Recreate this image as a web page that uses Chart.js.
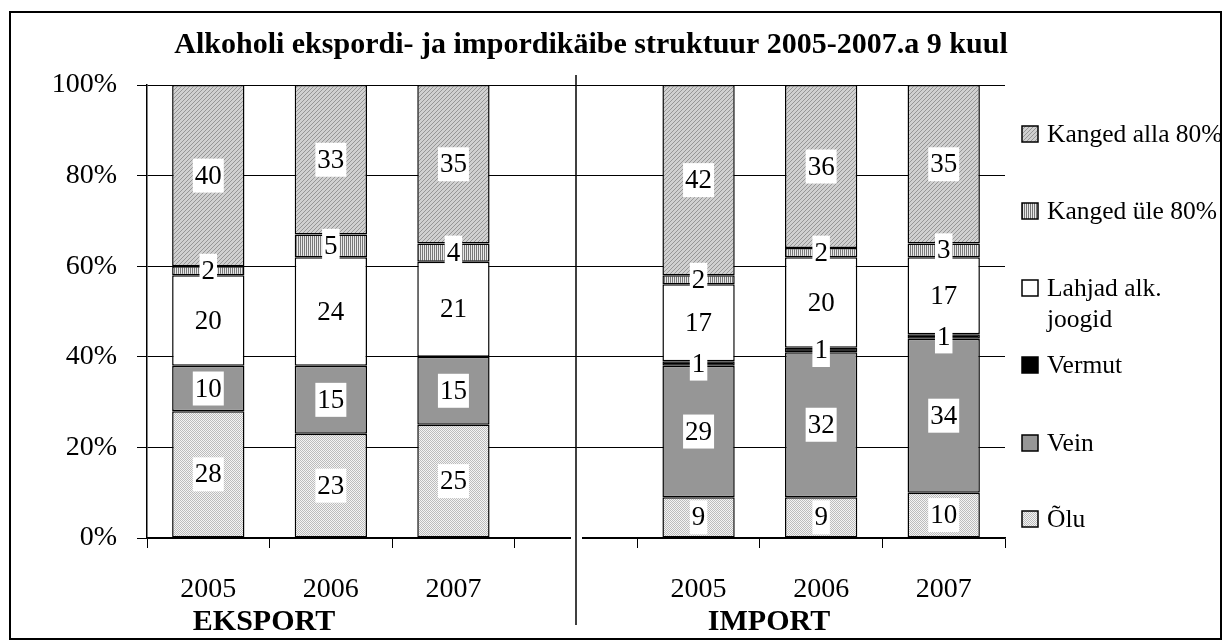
<!DOCTYPE html>
<html>
<head>
<meta charset="utf-8">
<script src="https://cdn.jsdelivr.net/npm/chart.js@4.4.1/dist/chart.umd.min.js"></script>
<style>
    html, body { margin: 0; padding: 0; background: #fff; }
    #wrap { width: 1225px; height: 641px; }
</style>
</head>
<body>
<div id="wrap"><canvas id="graficaAlkohol" width="1225" height="641"></canvas></div>
<script>
const aastad = ["2005", "2006", "2007", "", "2005", "2006", "2007"];
const olu = [28, 23, 25, null, 9, 9, 10];
const vein = [10, 15, 15, null, 29, 32, 34];
const vermut = [null, null, null, null, 1, 1, 1];
const lahjad = [20, 24, 21, null, 17, 20, 17];
const kangedYle = [2, 5, 4, null, 2, 2, 3];
const kangedAlla = [40, 33, 35, null, 42, 36, 35];
const yTicks = [0, 20, 40, 60, 80, 100];
const pealkiri = "Alkoholi ekspordi- ja impordikäibe struktuur 2005-2007.a 9 kuul";
const grupid = ["EKSPORT", "IMPORT"];

const canvas = document.getElementById("graficaAlkohol");
const mainCtx = canvas.getContext("2d");

function muster(w, h, draw) {
    const c = document.createElement("canvas");
    c.width = w;
    c.height = h;
    draw(c.getContext("2d"));
    return mainCtx.createPattern(c, "repeat");
}

const oluMuster = muster(2, 2, (c) => {
    c.fillStyle = "#f4f4f4";
    c.fillRect(0, 0, 2, 2);
    c.fillStyle = "#bcbcbc";
    c.fillRect(0, 0, 1, 1);
    c.fillRect(1, 1, 1, 1);
});

const alla80Muster = muster(4, 4, (c) => {
    c.fillStyle = "#d0d0d0";
    c.fillRect(0, 0, 4, 4);
    c.fillStyle = "#969696";
    for (let i = 0; i < 4; i++) c.fillRect(i, 3 - i, 1, 1);
});

const yle80Muster = muster(2, 1, (c) => {
    c.fillStyle = "#e8e8e8";
    c.fillRect(0, 0, 2, 1);
    c.fillStyle = "#777777";
    c.fillRect(0, 0, 1, 1);
});

const datasets = [
    { label: "Õlu", data: olu, backgroundColor: oluMuster },
    { label: "Vein", data: vein, backgroundColor: "#969696" },
    { label: "Vermut", data: vermut, backgroundColor: "#000000" },
    { label: ["Lahjad alk.", "joogid"], data: lahjad, backgroundColor: "#ffffff" },
    { label: "Kanged üle 80%", data: kangedYle, backgroundColor: yle80Muster },
    { label: "Kanged alla 80%", data: kangedAlla, backgroundColor: alla80Muster },
].map((ds) => ({
    ...ds,
    borderColor: "#000000",
    borderWidth: 1.5,
    borderSkipped: false,
    barPercentage: 0.59,
    categoryPercentage: 1,
}));

// numbers in white boxes on each segment
const vaartusedPlugin = {
    id: "vaartused",
    afterDatasetsDraw(chart) {
        const ctx = chart.ctx;
        ctx.save();
        ctx.font = '27px "Liberation Serif"';
        ctx.textAlign = "center";
        ctx.textBaseline = "middle";
        chart.data.datasets.forEach((ds, i) => {
            const meta = chart.getDatasetMeta(i);
            meta.data.forEach((bar, j) => {
                const v = ds.data[j];
                if (!v) return;
                const p = bar.getProps(["x", "y", "base"], true);
                const cy = (p.y + p.base) / 2;
                const tekst = String(v);
                const w = ctx.measureText(tekst).width + 4;
                ctx.fillStyle = "#ffffff";
                ctx.fillRect(p.x - w / 2, cy - 17, w, 34);
                ctx.fillStyle = "#000000";
                ctx.fillText(tekst, p.x, cy + 1);
            });
        });
        ctx.restore();
    }
};

// title, legend, divider, group names and frame
const raamPlugin = {
    id: "raam",
    afterDraw(chart) {
        const ctx = chart.ctx;
        const area = chart.chartArea;
        ctx.save();

        ctx.fillStyle = "#000000";
        ctx.textAlign = "center";
        ctx.textBaseline = "middle";
        ctx.font = 'bold 30px "Liberation Serif"';
        ctx.fillText(pealkiri, 591, 45);

        ctx.font = 'bold 30px "Liberation Serif"';
        ctx.fillText(grupid[0], 264, 622);
        ctx.fillText(grupid[1], 769, 622);

        // gap in x axis around the divider
        const xs = chart.scales.x;
        const jagaja = xs.getPixelForValue(3);
        ctx.fillStyle = "#ffffff";
        ctx.fillRect(jagaja - 5, area.bottom - 2, 11, 4);
        ctx.strokeStyle = "#000000";
        ctx.lineWidth = 1.5;
        ctx.beginPath();
        ctx.moveTo(jagaja, 75);
        ctx.lineTo(jagaja, 625);
        ctx.stroke();

        // legend, top item is the last dataset
        const kohad = [519, 443, 365, 288, 211, 134];
        ctx.textAlign = "left";
        ctx.font = '25.5px "Liberation Serif"';
        chart.data.datasets.forEach((ds, i) => {
            const y = kohad[i];
            ctx.fillStyle = ds.backgroundColor;
            ctx.fillRect(1022, y - 8, 16, 16);
            ctx.strokeStyle = "#000000";
            ctx.lineWidth = 1.5;
            ctx.strokeRect(1022, y - 8, 16, 16);
            ctx.fillStyle = "#000000";
            const read = Array.isArray(ds.label) ? ds.label : [ds.label];
            read.forEach((r, k) => ctx.fillText(r, 1047, y + 1 + k * 31));
        });

        ctx.strokeStyle = "#000000";
        ctx.lineWidth = 2;
        ctx.strokeRect(10, 12, 1211, 627);
        ctx.restore();
    }
};

new Chart(canvas, {
    type: "bar",
    data: { labels: aastad, datasets: datasets },
    options: {
        responsive: false,
        animation: false,
        layout: { padding: { left: 0, top: 85, right: 220, bottom: 0 } },
        plugins: {
            legend: { display: false },
            title: { display: false },
            tooltip: { enabled: false },
        },
        scales: {
            x: {
                stacked: true,
                afterFit: (s) => { s.height = 103; },
                grid: {
                    offset: true,
                    drawOnChartArea: false,
                    tickLength: 10,
                    color: "#000000",
                },
                border: { color: "#000000", width: 1.5 },
                ticks: {
                    color: "#000000",
                    padding: 25,
                    font: { family: "Liberation Serif", size: 28 },
                },
            },
            y: {
                stacked: true,
                min: 0,
                max: 100,
                afterFit: (s) => { s.width = 147; },
                afterBuildTicks: (s) => { s.ticks = yTicks.map((v) => ({ value: v })); },
                grid: { color: "#000000", lineWidth: 1, tickLength: 10 },
                border: { color: "#000000", width: 1.5 },
                ticks: {
                    color: "#000000",
                    padding: 20,
                    font: { family: "Liberation Serif", size: 28 },
                    callback: (v) => v + "%",
                },
            },
        },
    },
    plugins: [vaartusedPlugin, raamPlugin],
});
</script>
</body>
</html>
